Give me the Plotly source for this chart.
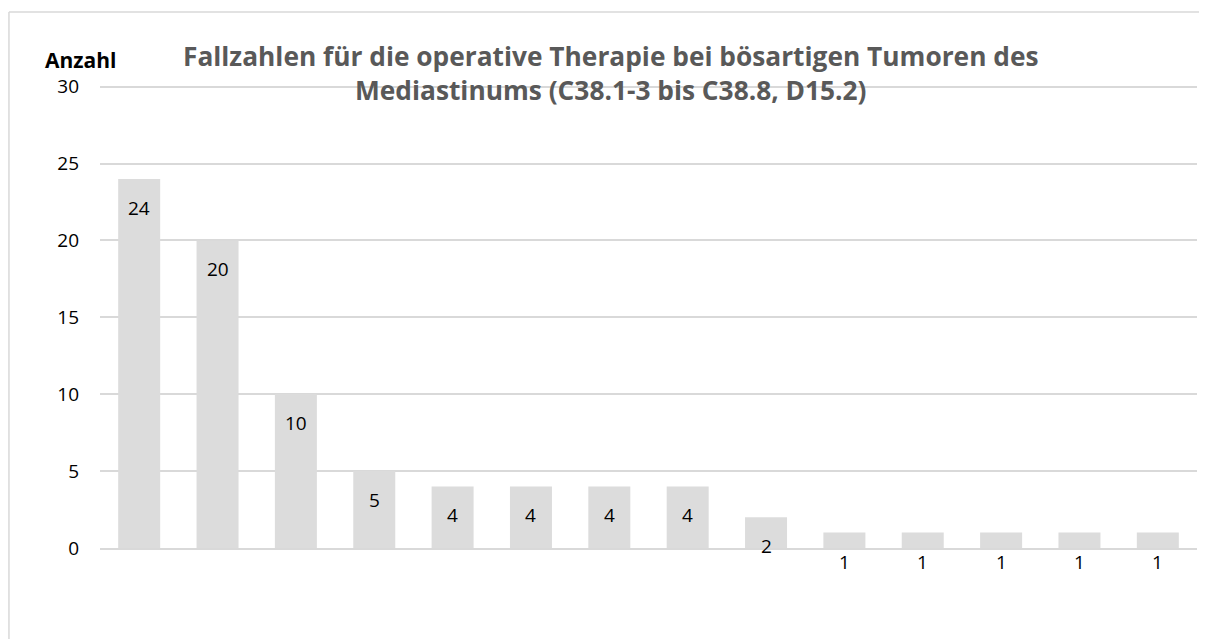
import plotly.graph_objects as go

categories = [f"Kat {i}" for i in range(1, 15)]
values = [24, 20, 10, 5, 4, 4, 4, 4, 2, 1, 1, 1, 1, 1]
y_ticks = [0, 5, 10, 15, 20, 25, 30]

title_text = ("Fallzahlen für die operative Therapie bei bösartigen Tumoren des<br>"
              "Mediastinums (C38.1-3 bis C38.8, D15.2)")

FONT = "Open Sans"

fig = go.Figure()
fig.add_trace(go.Bar(
    x=categories, y=values,
    marker=dict(color="#dcdcdc", line=dict(width=0)),
    hoverinfo="x+y",
))

for c, v in zip(categories, values):
    fig.add_annotation(x=c, y=v, xref="x", yref="y", text=str(v),
                       showarrow=False, yanchor="middle", yshift=-29,
                       font=dict(family=FONT, size=19, color="#000000"))

# title
fig.add_annotation(xref="paper", yref="paper", x=0.4658, y=1.0118,
                   text=title_text, showarrow=False, xanchor="center", yanchor="middle",
                   align="center",
                   font=dict(family=FONT, size=26.3, color="#595959", weight="bold"))
# axis title
fig.add_annotation(xref="paper", yref="paper", x=-0.0182, y=1.0405,
                   text="<b>Anzahl</b>", showarrow=False, xanchor="center", yanchor="middle",
                   font=dict(family=FONT, size=21, color="#000000"))

# chart border (left and top edges; the others lie outside the view)
fig.add_shape(type="line", xref="paper", yref="paper",
              x0=-0.083, x1=-0.083, y0=-0.4, y1=1.1429,
              line=dict(color="#d9d9d9", width=1.5), layer="below")
fig.add_shape(type="line", xref="paper", yref="paper",
              x0=-0.083, x1=1.1, y0=1.1429, y1=1.1429,
              line=dict(color="#d9d9d9", width=1.5), layer="below")

fig.update_layout(
    width=1199, height=631,
    margin=dict(l=92, r=10, t=71, b=91),
    paper_bgcolor="white", plot_bgcolor="white",
    bargap=0.464,
    showlegend=False,
    font=dict(family=FONT, size=19, color="#000000"),
)
fig.update_xaxes(showticklabels=False, showgrid=False, showline=True,
                 linecolor="#d9d9d9", linewidth=2, ticks="", zeroline=False)
fig.update_yaxes(range=[0, 30.5], tickvals=y_ticks, showgrid=True, gridcolor="#d9d9d9",
                 gridwidth=1.5, zeroline=False, showline=False, ticks="",
                 ticklabelstandoff=20, tickfont=dict(family=FONT, size=19, color="#000000"))

fig.write_html("out.html",
               post_script="document.documentElement.style.overflow='hidden';"
                           "document.body.style.overflow='hidden';")
